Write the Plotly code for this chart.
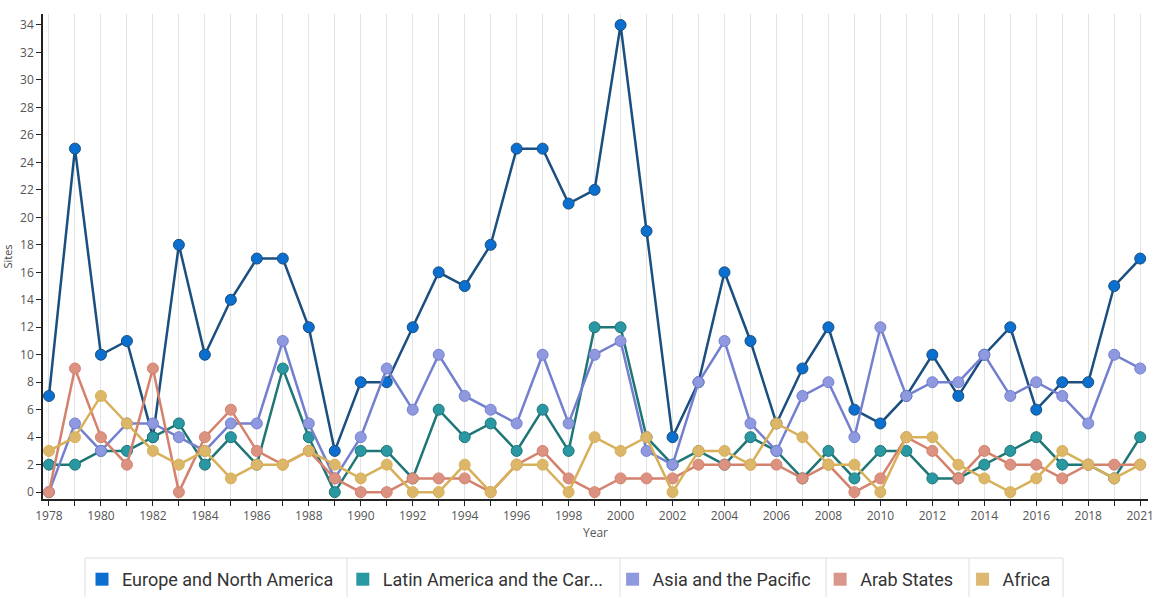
import plotly.graph_objects as go

years = [str(y) for y in range(1978, 2020)] + ["2021"]
tick_labels = [str(y) for y in range(1978, 2019, 2)] + ["2021"]

europe = [7, 25, 10, 11, 4, 18, 10, 14, 17, 17, 12, 3, 8, 8, 12, 16, 15, 18, 25, 25, 21, 22,
          34, 19, 4, 8, 16, 11, 5, 9, 12, 6, 5, 7, 10, 7, 10, 12, 6, 8, 8, 15, 17]
latin = [2, 2, 3, 3, 4, 5, 2, 4, 2, 9, 4, 0, 3, 3, 1, 6, 4, 5, 3, 6, 3, 12,
         12, 4, 2, 3, 2, 4, 3, 1, 3, 1, 3, 3, 1, 1, 2, 3, 4, 2, 2, 1, 4]
asia = [0, 5, 3, 5, 5, 4, 3, 5, 5, 11, 5, 1, 4, 9, 6, 10, 7, 6, 5, 10, 5, 10,
        11, 3, 2, 8, 11, 5, 3, 7, 8, 4, 12, 7, 8, 8, 10, 7, 8, 7, 5, 10, 9]
arab = [0, 9, 4, 2, 9, 0, 4, 6, 3, 2, 3, 1, 0, 0, 1, 1, 1, 0, 2, 3, 1, 0,
        1, 1, 1, 2, 2, 2, 2, 1, 2, 0, 1, 4, 3, 1, 3, 2, 2, 1, 2, 2, 2]
africa = [3, 4, 7, 5, 3, 2, 3, 1, 2, 2, 3, 2, 1, 2, 0, 0, 2, 0, 2, 2, 0, 4,
          3, 4, 0, 3, 3, 2, 5, 4, 2, 2, 0, 4, 4, 2, 1, 0, 1, 3, 2, 1, 2]

series_names = ["Europe and North America", "Latin America and the Car...",
                "Asia and the Pacific", "Arab States", "Africa"]
series_values = [europe, latin, asia, arab, africa]
line_colors = ["#1a4f7f", "#1f7676", "#7480cf", "#d4826e", "#d8b05a"]
marker_colors = ["#0b6fcf", "#2a98a3", "#8f99df", "#dc9280", "#dcb769"]
swatch_colors = ["#0b6fcf", "#2a98a3", "#8f99df", "#d9968a", "#dcb872"]

W, H = 1156, 597
ML, MR, MT, MB = 43, 8, 14, 98

fig = go.Figure()
for name, vals, lc, mc in zip(series_names, series_values, line_colors, marker_colors):
    fig.add_trace(go.Scatter(
        x=years, y=vals, mode="lines+markers", name=name, legendgroup=name,
        showlegend=False,
        line=dict(color=lc, width=2.5),
        marker=dict(color=mc, size=11, line=dict(color=lc, width=1)),
        hoverinfo="x+y+name",
    ))
for name, sc in zip(series_names, swatch_colors):
    fig.add_trace(go.Scatter(
        x=[None], y=[None], mode="markers", name=name + "\u00a0", legendgroup=name,
        marker=dict(color=sc, size=13, symbol="square"),
    ))

ticktext = [y if y in tick_labels else "" for y in years]

# legend cell borders (pixel positions converted to paper coordinates)
pw = W - ML - MR
ph = H - MT - MB
def px_x(p):
    return (p - ML) / pw
def px_y(p):
    return (H - MB - p) / ph

border_color = "#dedede"
shapes = [dict(type="line", xref="paper", yref="paper",
               x0=px_x(85), x1=px_x(1063), y0=px_y(558), y1=px_y(558),
               line=dict(color=border_color, width=1))]
for bx in [85, 347, 620, 826, 969, 1063]:
    shapes.append(dict(type="line", xref="paper", yref="paper",
                       x0=px_x(bx), x1=px_x(bx), y0=px_y(558), y1=px_y(597),
                       line=dict(color=border_color, width=1)))

fig.update_layout(
    width=W, height=H,
    margin=dict(l=ML, r=MR, t=MT, b=MB, autoexpand=False),
    paper_bgcolor="white", plot_bgcolor="white",
    font=dict(family="Open Sans, Arial, sans-serif", color="#444"),
    xaxis=dict(
        type="category", categoryorder="array", categoryarray=years,
        tickmode="array", tickvals=years, ticktext=ticktext,
        range=[-0.23, len(years) - 0.7],
        showgrid=True, gridcolor="#e3e3e3", gridwidth=1,
        showline=True, linecolor="#222", linewidth=1.5,
        ticks="outside", ticklen=5, tickcolor="#222",
        tickfont=dict(size=12, color="#555"),
        title=dict(text="Year", font=dict(size=12, color="#555"), standoff=2),
        zeroline=False, fixedrange=True, automargin=False,
    ),
    yaxis=dict(
        range=[-0.5, 34.8], dtick=2, tick0=0,
        showgrid=False, zeroline=False,
        showline=True, linecolor="#222", linewidth=1.5,
        ticks="outside", ticklen=5, tickcolor="#222",
        tickfont=dict(size=12, color="#555"),
        title=dict(text="Sites", font=dict(size=11, color="#444"), standoff=6),
        fixedrange=True, automargin=False,
    ),
    legend=dict(
        orientation="h", x=px_x(82), xanchor="left", y=px_y(561), yanchor="top",
        font=dict(family="Roboto, sans-serif", size=18, color="#333"),
        bgcolor="rgba(0,0,0,0)", itemclick=False, itemdoubleclick=False,
        tracegroupgap=0,
    ),
    shapes=shapes,
    showlegend=True,
)

fig.write_html("out.html", config={"displayModeBar": False},
               post_script="document.body.style.margin='0';")
